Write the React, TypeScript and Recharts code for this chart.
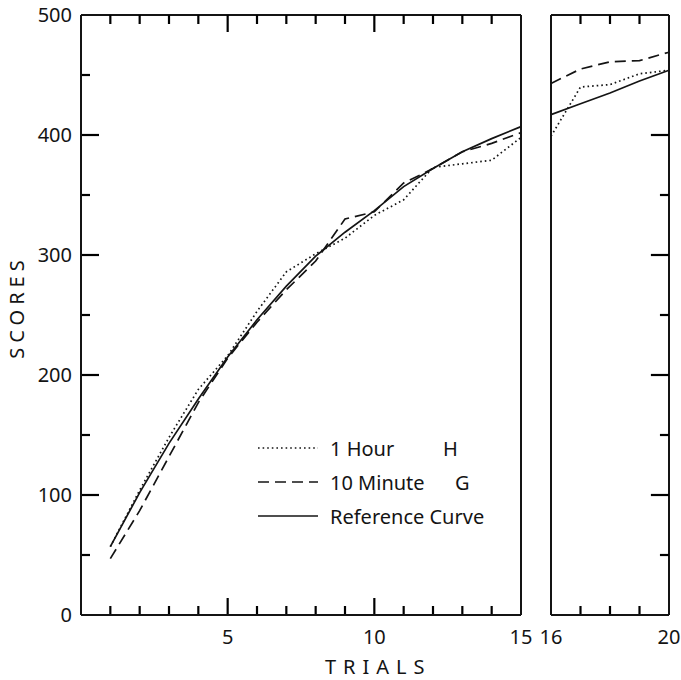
import { LineChart, Line, XAxis, YAxis, Legend, ReferenceLine } from 'recharts';

// ─── Data ────────────────────────────────────────────────────────────────────

const TRIALS_EARLY = [1, 2, 3, 4, 5, 6, 7, 8, 9, 10, 11, 12, 13, 14, 15];
const REFERENCE_EARLY = [57, 102, 143, 180, 215, 246, 274, 299, 319, 337, 357, 372, 386, 397, 407];
const TEN_MINUTE_EARLY = [47, 87, 132, 177, 214, 244, 271, 295, 330, 336, 360, 372, 386, 393, 402];
const ONE_HOUR_EARLY = [57, 104, 148, 188, 216, 253, 286, 301, 314, 333, 346, 373, 376, 379, 398];

const TRIALS_LATE = [16, 17, 18, 19, 20];
const REFERENCE_LATE = [417, 426, 435, 445, 454];
const TEN_MINUTE_LATE = [443, 455, 461, 462, 469];
const ONE_HOUR_LATE = [399, 440, 442, 451, 454];

const Y_TICKS = [0, 50, 100, 150, 200, 250, 300, 350, 400, 450, 500];
const Y_MARKS_LEFT = [50, 100, 150, 200, 250, 300, 350, 400, 450];
const Y_MARKS_RIGHT = [50, 100, 150, 200, 250, 300, 350, 400];
const X_TICKS_EARLY = [5, 10, 15];
const X_MARKS_EARLY = [1, 2, 3, 4, 5, 6, 7, 8, 9, 10, 11, 12, 13, 14];
const X_TICKS_LATE = [16, 20];
const X_MARKS_LATE = [17, 18, 19];

const LEGEND_NAMES = ['1 Hour', '10 Minute', 'Reference Curve'];
const LEGEND_CODES = ['H', 'G', ''];

// ─── Styling ─────────────────────────────────────────────────────────────────

const INK = '#141414';
const FONT = '"Noto Sans", "DejaVu Sans", sans-serif';
const DASHES = ['1.6 3', '11 6', undefined];

// plot area size, used to turn tick-mark lengths (px) into data units
const PLOT_H = 600;
const PX_PER_TRIAL = 440 / 15;
const Y_UNIT = 500 / PLOT_H;
const MINOR_PX = 9;
const MAJOR_PX = 17;

const earlyData = TRIALS_EARLY.map((t, i) => ({
  trial: t,
  ref: REFERENCE_EARLY[i],
  tenMin: TEN_MINUTE_EARLY[i],
  oneHour: ONE_HOUR_EARLY[i],
}));

const lateData = TRIALS_LATE.map((t, i) => ({
  trial: t,
  ref: REFERENCE_LATE[i],
  tenMin: TEN_MINUTE_LATE[i],
  oneHour: ONE_HOUR_LATE[i],
}));

// ─── Tick labels ─────────────────────────────────────────────────────────────

function xLabel(p: any) {
  return (
    <text x={p.x} y={p.y + 29} textAnchor="middle" fontSize={20} fontFamily={FONT} fill={INK}>
      {p.payload.value}
    </text>
  );
}

function yLabel(p: any) {
  const v = p.payload.value;
  if (v % 100 !== 0) return <g />;
  return (
    <text x={p.x - 9} y={p.y + 7} textAnchor="end" fontSize={20} fontFamily={FONT} fill={INK}>
      {v}
    </text>
  );
}

function blankTick() {
  return <g />;
}

// ─── Inward tick marks, drawn on the chart scales ───────────────────────────

function xMarks(marks: number[], edgeY: number, dir: number) {
  return marks.map((t) => {
    const len = (t % 5 === 0 ? MAJOR_PX : MINOR_PX) * Y_UNIT;
    return (
      <ReferenceLine key={`x${edgeY}-${t}`} segment={[{ x: t, y: edgeY }, { x: t, y: edgeY + dir * len }]}
        stroke="#000" strokeWidth={2.2} ifOverflow="visible" />
    );
  });
}

function yMarks(marks: number[], edgeX: number, dir: number) {
  return marks.map((v) => {
    const len = (v % 100 === 0 ? MAJOR_PX + 1 : MINOR_PX) / PX_PER_TRIAL;
    return (
      <ReferenceLine key={`y${edgeX}-${v}`} segment={[{ x: edgeX, y: v }, { x: edgeX + dir * len, y: v }]}
        stroke="#000" strokeWidth={2.2} ifOverflow="visible" />
    );
  });
}

function LegendBox() {
  return (
    <div style={{ position: 'relative', width: 250, fontFamily: FONT, fontSize: 20, color: INK }}>
      {LEGEND_NAMES.map((name, i) => (
        <div key={name} style={{ position: 'relative', height: 34 }}>
          <svg width={62} height={34} style={{ position: 'absolute', left: 8, top: 0 }}>
            <line x1={0} y1={17} x2={60} y2={17} stroke={INK} strokeWidth={1.7} strokeDasharray={DASHES[i]} />
          </svg>
          <span style={{ position: 'absolute', left: 80, top: 4, whiteSpace: 'nowrap' }}>{name}</span>
          <span style={{ position: 'absolute', left: i === 0 ? 193 : 205, top: 4 }}>{LEGEND_CODES[i]}</span>
        </div>
      ))}
    </div>
  );
}

export default function App() {
  const axisLine = { stroke: INK, strokeWidth: 2 };
  return (
    <div style={{ position: 'absolute', left: 0, top: 0, width: 681, height: 680, background: '#fff' }}>
      <div style={{ position: 'absolute', left: 0, top: 0 }}>
        <LineChart width={540} height={680} data={earlyData} margin={{ top: 15, right: 19, bottom: 64, left: 51 }}>
          <XAxis type="number" dataKey="trial" domain={[0, 15]} ticks={X_TICKS_EARLY} interval={0}
            height={1} tickSize={0} tickMargin={0} tickLine={false} axisLine={axisLine} tick={xLabel} />
          <YAxis type="number" domain={[0, 500]} ticks={Y_TICKS} interval={0}
            width={30} tickSize={0} tickMargin={0} tickLine={false} axisLine={axisLine} tick={yLabel} />
          <ReferenceLine y={500} stroke={INK} strokeWidth={2} />
          <ReferenceLine x={15} stroke={INK} strokeWidth={2} />
          <Line type="linear" dataKey="oneHour" stroke={INK} strokeWidth={1.7} strokeDasharray={DASHES[0]} dot={false} isAnimationActive={false} />
          <Line type="linear" dataKey="tenMin" stroke={INK} strokeWidth={1.7} strokeDasharray={DASHES[1]} dot={false} isAnimationActive={false} />
          <Line type="linear" dataKey="ref" stroke={INK} strokeWidth={1.7} dot={false} isAnimationActive={false} />
          {xMarks(X_MARKS_EARLY, 0, 1)}
          {xMarks(X_MARKS_EARLY, 500, -1)}
          {yMarks(Y_MARKS_LEFT, 0, 1)}
          <Legend layout="horizontal" verticalAlign="middle" align="center" content={<LegendBox />}
            wrapperStyle={{ position: 'absolute', left: 250, top: 431, width: 250 }} />
        </LineChart>
      </div>
      <div style={{ position: 'absolute', left: 540, top: 0 }}>
        <LineChart width={141} height={680} data={lateData} margin={{ top: 15, right: 12, bottom: 64, left: 1 }}>
          <XAxis type="number" dataKey="trial" domain={[16, 20]} ticks={X_TICKS_LATE} interval={0}
            height={1} tickSize={0} tickMargin={0} tickLine={false} axisLine={axisLine} tick={xLabel} />
          <YAxis type="number" domain={[0, 500]} ticks={[0, 500]} interval={0} width={10}
            tickLine={false} axisLine={axisLine} tick={blankTick} />
          <ReferenceLine y={500} stroke={INK} strokeWidth={2} />
          <ReferenceLine x={20} stroke={INK} strokeWidth={2} />
          <Line type="linear" dataKey="oneHour" stroke={INK} strokeWidth={1.7} strokeDasharray={DASHES[0]} dot={false} isAnimationActive={false} />
          <Line type="linear" dataKey="tenMin" stroke={INK} strokeWidth={1.7} strokeDasharray={DASHES[1]} dot={false} isAnimationActive={false} />
          <Line type="linear" dataKey="ref" stroke={INK} strokeWidth={1.7} dot={false} isAnimationActive={false} />
          {xMarks(X_MARKS_LATE, 0, 1)}
          {xMarks(X_MARKS_LATE, 500, -1)}
          {yMarks(Y_MARKS_RIGHT, 20, -1)}
        </LineChart>
      </div>
      <div style={{ position: 'absolute', left: 325, top: 657, lineHeight: 1, fontFamily: FONT, fontSize: 20, letterSpacing: 7, color: INK, whiteSpace: 'nowrap' }}>
        TRIALS
      </div>
      <div style={{ position: 'absolute', left: 17, top: 307, transform: 'translate(-50%, -50%) rotate(-90deg)', lineHeight: 1, fontFamily: FONT, fontSize: 20, letterSpacing: 5, color: INK, whiteSpace: 'nowrap' }}>
        SCORES
      </div>
    </div>
  );
}
